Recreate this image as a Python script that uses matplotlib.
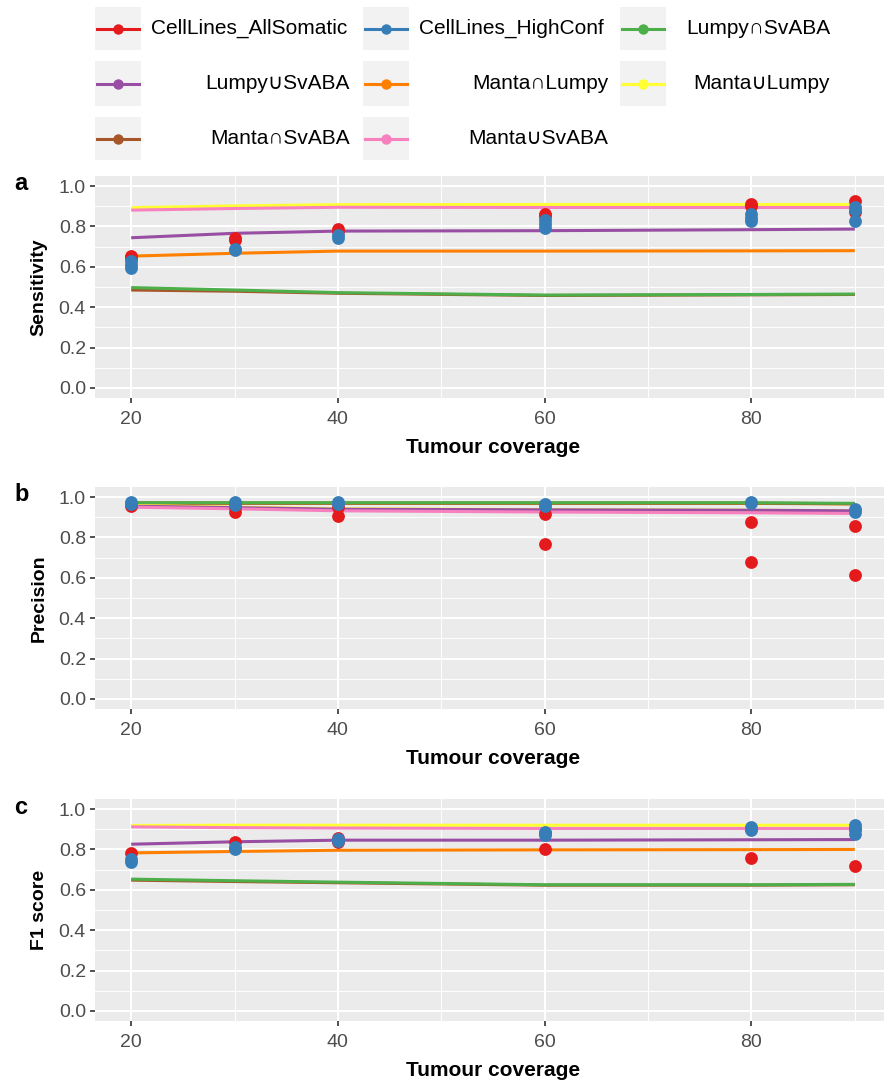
import numpy as np
import matplotlib
matplotlib.use('Agg')
import matplotlib.pyplot as plt
from matplotlib.ticker import MultipleLocator

plt.rcParams['font.family'] = ['Liberation Sans', 'DejaVu Sans']

# tumour coverage
coverage = [20, 30, 40, 60, 80, 90]

combos = ['Lumpy∩SvABA', 'Lumpy∪SvABA', 'Manta∩Lumpy', 'Manta∪Lumpy', 'Manta∩SvABA', 'Manta∪SvABA']
combo_colors = {'Lumpy∩SvABA': '#4DAF4A', 'Lumpy∪SvABA': '#984EA3', 'Manta∩Lumpy': '#FF7F00',
                'Manta∪Lumpy': '#FFFF33', 'Manta∩SvABA': '#A65628', 'Manta∪SvABA': '#F781BF'}
red = '#E41A1C'
blue = '#377EB8'

# smoothed curves per combination
sens_lines = {
    'Lumpy∩SvABA': [0.497, 0.485, 0.472, 0.460, 0.463, 0.465],
    'Lumpy∪SvABA': [0.744, 0.766, 0.777, 0.779, 0.784, 0.787],
    'Manta∩Lumpy': [0.653, 0.667, 0.678, 0.678, 0.679, 0.680],
    'Manta∪Lumpy': [0.893, 0.902, 0.908, 0.909, 0.909, 0.909],
    'Manta∩SvABA': [0.485, 0.479, 0.469, 0.458, 0.461, 0.463],
    'Manta∪SvABA': [0.881, 0.889, 0.895, 0.894, 0.894, 0.894],
}
prec_lines = {
    'Lumpy∩SvABA': [0.972, 0.972, 0.972, 0.972, 0.972, 0.969],
    'Lumpy∪SvABA': [0.955, 0.948, 0.940, 0.937, 0.935, 0.932],
    'Manta∩Lumpy': [0.970, 0.969, 0.969, 0.969, 0.969, 0.966],
    'Manta∪Lumpy': [0.958, 0.950, 0.942, 0.938, 0.935, 0.932],
    'Manta∩SvABA': [0.971, 0.970, 0.970, 0.970, 0.970, 0.967],
    'Manta∪SvABA': [0.950, 0.942, 0.932, 0.926, 0.922, 0.919],
}
f1_lines = {
    'Lumpy∩SvABA': [0.653, 0.645, 0.638, 0.625, 0.625, 0.627],
    'Lumpy∪SvABA': [0.826, 0.838, 0.846, 0.846, 0.848, 0.849],
    'Manta∩Lumpy': [0.783, 0.790, 0.796, 0.798, 0.799, 0.800],
    'Manta∪Lumpy': [0.919, 0.920, 0.920, 0.920, 0.920, 0.920],
    'Manta∩SvABA': [0.648, 0.641, 0.635, 0.623, 0.623, 0.625],
    'Manta∪SvABA': [0.912, 0.908, 0.906, 0.904, 0.904, 0.904],
}

# observed values for the cell line truth sets, one list per coverage
sens_all = [[0.655, 0.645], [0.741, 0.735], [0.786, 0.775], [0.86, 0.85], [0.911, 0.90], [0.925, 0.87]]
sens_high = [[0.63, 0.61, 0.593], [0.69, 0.683], [0.757, 0.741], [0.83, 0.81, 0.79], [0.86, 0.84, 0.825], [0.895, 0.88, 0.825]]
prec_all = [[0.955], [0.95, 0.927], [0.95, 0.906], [0.914, 0.767], [0.875, 0.677], [0.856, 0.614]]
prec_high = [[0.975, 0.965], [0.977, 0.96], [0.977, 0.965], [0.965, 0.955], [0.977, 0.97], [0.939, 0.925]]
f1_all = [[0.78], [0.837], [0.859, 0.837], [0.88, 0.804], [0.90, 0.76], [0.90, 0.718]]
f1_high = [[0.755, 0.738], [0.812, 0.80], [0.85, 0.84], [0.887, 0.871], [0.909, 0.896], [0.92, 0.90, 0.879]]

panels = [('a', 'Sensitivity', sens_lines, sens_all, sens_high),
          ('b', 'Precision', prec_lines, prec_all, prec_high),
          ('c', 'F1 score', f1_lines, f1_all, f1_high)]

W, H = 884, 1080
fig = plt.figure(figsize=(W / 100, H / 100), dpi=100)

tops = [176, 487, 799]
left_px, right_px = 95, 891
draw_order = ['Manta∩Lumpy', 'Manta∩SvABA', 'Lumpy∩SvABA', 'Manta∪Lumpy', 'Lumpy∪SvABA', 'Manta∪SvABA']


def flat(groups):
    xs, ys = [], []
    for xv, vals in zip(coverage, groups):
        for v in vals:
            xs.append(xv)
            ys.append(v)
    return xs, ys


for (letter, ylab, lines, pts_all, pts_high), top in zip(panels, tops):
    ax = fig.add_axes([left_px / W, 1 - (top + 222) / H, (right_px - left_px) / W, 222 / H])
    ax.set_facecolor('#EBEBEB')
    for s in ax.spines.values():
        s.set_visible(False)
    for name in draw_order:
        ax.plot(coverage, lines[name], color=combo_colors[name], lw=2.2, zorder=3, solid_capstyle='butt')
    xa, ya = flat(pts_all)
    xh, yh = flat(pts_high)
    ax.scatter(xa, ya, s=85, color=red, zorder=4, linewidths=0)
    ax.scatter(xh, yh, s=85, color=blue, zorder=5, linewidths=0)
    ax.set_xlim(16.5, 93.5)
    ax.set_ylim(-0.05, 1.05)
    ax.xaxis.set_major_locator(MultipleLocator(20))
    ax.xaxis.set_minor_locator(MultipleLocator(10))
    ax.yaxis.set_major_locator(MultipleLocator(0.2))
    ax.yaxis.set_minor_locator(MultipleLocator(0.1))
    ax.set_yticks([0, 0.2, 0.4, 0.6, 0.8, 1.0])
    ax.set_yticklabels(['0.0', '0.2', '0.4', '0.6', '0.8', '1.0'])
    ax.grid(which='major', color='white', lw=1.5, zorder=0)
    ax.grid(which='minor', color='white', lw=0.7, zorder=0)
    ax.set_axisbelow(True)
    ax.tick_params(which='major', length=3.5, width=1.2, color='#333333', labelcolor='#4D4D4D', labelsize=14)
    ax.tick_params(axis='x', pad=6)
    ax.tick_params(axis='y', pad=3)
    ax.tick_params(which='minor', length=0)
    ax.set_xlabel('Tumour coverage', fontsize=15, fontweight='bold', labelpad=7)
    ax.set_ylabel(ylab, fontsize=14, fontweight='bold', labelpad=8)
    fig.text(14 / W, 1 - (top + 8) / H, letter, fontsize=17, fontweight='bold', va='center', ha='left')

# legend
leg = fig.add_axes([0, 1 - 162 / H, 1, 162 / H])
leg.set_xlim(0, W)
leg.set_ylim(162, 0)
leg.axis('off')
leg_names = ['CellLines_AllSomatic', 'CellLines_HighConf'] + combos
leg_colors = [red, blue] + [combo_colors[c] for c in combos]
key_x = [95, 363, 620]
text_right = [350, 608, 830]
row_y = [(7, 50), (61, 106), (117, 160)]
for i, (name, col) in enumerate(zip(leg_names, leg_colors)):
    r, c = divmod(i, 3)
    y0, y1 = row_y[r]
    yc = (y0 + y1) / 2
    x0 = key_x[c]
    leg.add_patch(plt.Rectangle((x0, y0), 46, y1 - y0, color='#F2F2F2', lw=0))
    leg.plot([x0 + 2, x0 + 44], [yc, yc], color=col, lw=2.2)
    leg.plot([x0 + 23], [yc], 'o', color=col, ms=7.5, mew=0)
    if r == 0 and c < 2:
        leg.text(x0 + 56, yc, name, fontsize=15, va='center', ha='left')
    else:
        leg.text(text_right[c], yc, name, fontsize=15, va='center', ha='right')

fig.savefig('out.png', dpi=100)
